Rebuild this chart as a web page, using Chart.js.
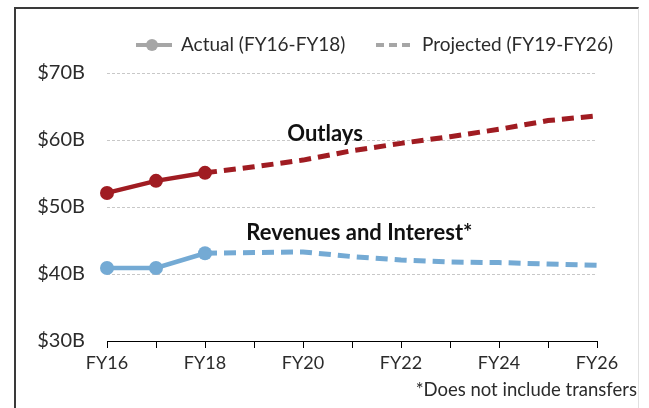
<!DOCTYPE html>
<html>
<head>
<meta charset="utf-8">
<script src="https://cdn.jsdelivr.net/npm/chart.js@4.4.1/dist/chart.umd.min.js"></script>
<style>
    body { margin: 0; background: #fff; }
    #frame { position: absolute; left: 14px; top: 7px; width: 622px; height: 420px; border-left: 2px solid #3a3a3a; border-top: 2px solid #3a3a3a; border-right: 1px solid #e0e0e0; }
    #wrap { position: absolute; left: 0; top: 0; width: 649px; height: 408px; }
</style>
</head>
<body>
<div id="frame"></div>
<div id="wrap"><canvas id="budgetChart" width="649" height="408"></canvas></div>
<script>
const years = ['FY16', 'FY17', 'FY18', 'FY19', 'FY20', 'FY21', 'FY22', 'FY23', 'FY24', 'FY25', 'FY26'];
const outlaysActual = [52.1, 53.9, 55.1, null, null, null, null, null, null, null, null];
const outlaysProjected = [null, null, 55.1, 56.0, 57.0, 58.4, 59.5, 60.5, 61.6, 62.9, 63.6];
const revenueActual = [40.9, 40.9, 43.1, null, null, null, null, null, null, null, null];
const revenueProjected = [null, null, 43.1, 43.2, 43.3, 42.6, 42.1, 41.8, 41.7, 41.5, 41.3];
const yTicks = [30, 40, 50, 60, 70];

const fontFamily = 'Lato, "Open Sans", sans-serif';
const red = '#a01c22';
const blue = '#74aad4';
const textColor = '#2b2b2b';

// series labels and legend drawn on top of the chart
const extrasPlugin = {
    id: 'extras',
    afterDraw(chart) {
        const ctx = chart.ctx;
        const x = chart.scales.x;
        const y = chart.scales.y;
        ctx.save();
        ctx.fillStyle = '#111';
        ctx.font = 'bold 22px ' + fontFamily;
        ctx.textAlign = 'center';
        ctx.textBaseline = 'middle';
        ctx.fillText('Outlays', x.getPixelForValue(4.45), y.getPixelForValue(60.9));
        ctx.fillText('Revenues and Interest*', x.getPixelForValue(5.15), y.getPixelForValue(46.1));

        // legend
        ctx.strokeStyle = '#a6a6a6';
        ctx.fillStyle = '#a6a6a6';
        ctx.lineWidth = 4;
        ctx.beginPath();
        ctx.moveTo(136, 45);
        ctx.lineTo(172, 45);
        ctx.stroke();
        ctx.beginPath();
        ctx.arc(152, 45, 6, 0, Math.PI * 2);
        ctx.fill();
        ctx.setLineDash([8, 5]);
        ctx.beginPath();
        ctx.moveTo(376, 45);
        ctx.lineTo(415, 45);
        ctx.stroke();
        ctx.setLineDash([]);
        ctx.fillStyle = textColor;
        ctx.font = '19px ' + fontFamily;
        ctx.textAlign = 'left';
        ctx.fillText('Actual (FY16-FY18)', 181, 45);
        ctx.fillText('Projected (FY19-FY26)', 422, 45);

        ctx.textAlign = 'right';
        ctx.font = '18.5px ' + fontFamily;
        ctx.fillText('*Does not include transfers', 637, 390);
        ctx.restore();
    }
};

const ctx = document.getElementById('budgetChart').getContext('2d');
new Chart(ctx, {
    type: 'line',
    data: {
        labels: years,
        datasets: [
            { label: 'Outlays projected', data: outlaysProjected, borderColor: red, borderWidth: 5, borderDash: [12, 7], pointRadius: 0 },
            { label: 'Outlays actual', data: outlaysActual, borderColor: red, backgroundColor: red, borderWidth: 4.5, pointRadius: 7, pointBorderWidth: 0, pointHoverRadius: 7 },
            { label: 'Revenues projected', data: revenueProjected, borderColor: blue, borderWidth: 5, borderDash: [12, 7], pointRadius: 0 },
            { label: 'Revenues actual', data: revenueActual, borderColor: blue, backgroundColor: blue, borderWidth: 4.5, pointRadius: 7, pointBorderWidth: 0, pointHoverRadius: 7 }
        ]
    },
    options: {
        responsive: false,
        animation: false,
        layout: { padding: { left: 30, right: 52, top: 73, bottom: 27 } },
        plugins: { legend: { display: false }, tooltip: { enabled: false } },
        scales: {
            x: {
                afterFit(scale) { scale.height = 40; },
                grid: { drawOnChartArea: false, drawTicks: true, tickLength: 7, color: '#000' },
                border: { color: '#000', width: 1 },
                ticks: {
                    autoSkip: false,
                    maxRotation: 0,
                    padding: 4,
                    color: textColor,
                    font: { family: fontFamily, size: 18 },
                    callback: (v, i) => (i % 2 === 0 ? years[i] : '')
                }
            },
            y: {
                min: 30,
                max: 70,
                afterFit(scale) { scale.width = 77; },
                afterBuildTicks(scale) { scale.ticks = yTicks.map(v => ({ value: v })); },
                grid: { drawTicks: false, color: '#c8c8c8', lineWidth: 1 },
                border: { display: false, dash: [3, 2] },
                ticks: {
                    padding: 22,
                    color: textColor,
                    font: { family: fontFamily, size: 20 },
                    callback: v => '$' + v + 'B'
                }
            }
        }
    },
    plugins: [extrasPlugin]
});
</script>
</body>
</html>
